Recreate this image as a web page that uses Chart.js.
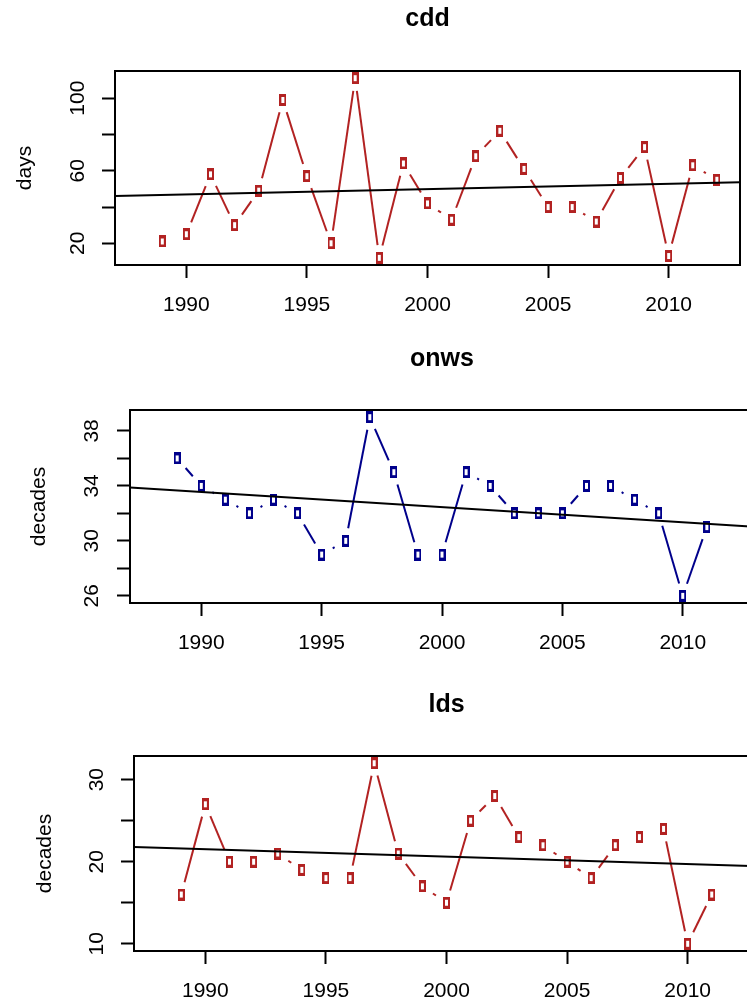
<!DOCTYPE html>
<html>
<head>
<meta charset="utf-8">
<title>cdd / onws / lds</title>
<script src="https://cdn.jsdelivr.net/npm/chart.js@4.4.1/dist/chart.umd.min.js"></script>
<style>
  html, body { margin: 0; padding: 0; background: #fff; overflow: hidden; width: 747px; height: 1004px; }
  .panel { position: absolute; left: 0; }
  .panel canvas { display: block; }
</style>
</head>
<body>
<div class="panel" style="top:0px"><canvas id="cdd-chart" width="747" height="330"></canvas></div>
<div class="panel" style="top:330px"><canvas id="onws-chart" width="760" height="340"></canvas></div>
<div class="panel" style="top:670px"><canvas id="lds-chart" width="765" height="334"></canvas></div>
<script>
// Data
const years = [1989, 1990, 1991, 1992, 1993, 1994, 1995, 1996, 1997, 1998, 1999, 2000,
               2001, 2002, 2003, 2004, 2005, 2006, 2007, 2008, 2009, 2010, 2011, 2012];
const cddValues  = [21, 25, 58, 30, 49, 99, 57, 20, 111, 12, 64, 42, 33, 68, 82, 61, 40, 40, 32, 56, 73, 13, 63, 55];
const onwsValues = [36, 34, 33, 32, 33, 32, 29, 30, 39, 35, 29, 29, 35, 34, 32, 32, 32, 34, 34, 33, 32, 26, 31];
const ldsValues  = [16, 27, 20, 20, 21, 19, 18, 18, 32, 21, 17, 15, 25, 28, 23, 22, 20, 18, 22, 23, 24, 10, 16];

// trend line values at the two ends of the x range
const cddTrend  = [46.1, 53.7];
const onwsTrend = [33.88, 31.03];
const ldsTrend  = [21.8, 19.46];

const xRange = [1987.04, 2012.96];
const xTicks = [1990, 1995, 2000, 2005, 2010];

const cddRange = [8.04, 114.96];
const cddTicks = [20, 40, 60, 80, 100];
const cddTickLabels = ['20', '', '60', '', '100'];

const onwsRange = [25.48, 39.52];
const onwsTicks = [26, 28, 30, 32, 34, 36, 38];
const onwsTickLabels = ['26', '', '30', '', '34', '', '38'];

const ldsRange = [9.12, 32.88];
const ldsTicks = [10, 15, 20, 25, 30];
const ldsTickLabels = ['10', '', '20', '', '30'];

const FONT = '"Liberation Sans", Arial, Helvetica, sans-serif';
const GAP = 12.8; // px left open around each point (R type = "b")

// dash pattern that leaves a gap at both ends of each segment
function gapDash(ctx) {
  const len = Math.hypot(ctx.p1.x - ctx.p0.x, ctx.p1.y - ctx.p0.y);
  if (len <= 2 * GAP) return [0, Math.max(len, 1)];
  return [0, GAP, len - 2 * GAP, GAP];
}

// small hollow box marker
function markerFor(color) {
  const c = document.createElement('canvas');
  c.width = 7;
  c.height = 12;
  const g = c.getContext('2d');
  g.fillStyle = color;
  g.fillRect(0, 0, 7, 12);
  g.fillStyle = '#ffffff';
  g.fillRect(2, 3, 3, 6);
  return c;
}

function drawPanel(id, p) {
  const L = p.layout;
  const tickFont = { family: FONT, size: 21 };
  const frame = { display: true, color: '#000', width: 2 };

  return new Chart(document.getElementById(id), {
    type: 'line',
    data: {
      datasets: [
        {
          data: p.trend.map((v, i) => ({ x: xRange[i], y: v })),
          borderColor: '#000',
          borderWidth: 2,
          pointRadius: 0,
          order: 0
        },
        {
          data: p.values.map((v, i) => ({ x: years[i], y: v })),
          borderColor: p.color,
          borderWidth: 2,
          pointStyle: markerFor(p.color),
          pointRadius: 3,
          tension: 0,
          order: 1,
          segment: { borderDash: gapDash }
        }
      ]
    },
    options: {
      responsive: false,
      animation: false,
      devicePixelRatio: 1,
      events: [],
      layout: { padding: { left: 0, right: L.padRight, top: 0, bottom: 0 } },
      plugins: {
        legend: { display: false },
        tooltip: { enabled: false },
        title: {
          display: true,
          text: p.title,
          fullSize: false,
          color: '#000',
          font: { family: FONT, size: 25, weight: 'bold' },
          padding: { top: L.titleMid - 15, bottom: L.boxTop - L.titleMid - 15 }
        }
      },
      scales: {
        x: {
          type: 'linear',
          position: 'bottom',
          min: xRange[0],
          max: xRange[1],
          afterBuildTicks: s => { s.ticks = xTicks.map(v => ({ value: v })); },
          afterFit: s => { s.height = L.xAxisHeight; },
          ticks: { autoSkip: false, maxRotation: 0, color: '#000', font: tickFont, padding: 14.4,
                   callback: v => String(v) },
          grid: { display: true, drawOnChartArea: false, drawTicks: true, tickLength: 13,
                  tickWidth: 2, tickColor: '#000' },
          border: frame
        },
        y: {
          type: 'linear',
          position: 'left',
          min: p.yRange[0],
          max: p.yRange[1],
          afterBuildTicks: s => { s.ticks = p.yTicks.map(v => ({ value: v })); },
          afterFit: s => { s.width = L.boxLeft; },
          ticks: { autoSkip: false, minRotation: 90, maxRotation: 90, crossAlign: 'center',
                   color: '#000', font: tickFont, padding: L.yTickPad,
                   callback: (v, i) => p.yTickLabels[i] },
          grid: { display: true, drawOnChartArea: false, drawTicks: true, tickLength: 13,
                  tickWidth: 2, tickColor: '#000' },
          border: frame,
          title: { display: true, text: p.yTitle, color: '#000', font: { family: FONT, size: 21 },
                   padding: { top: L.yTitleMid - 12.6, bottom: 0 } }
        },
        x2: {
          type: 'linear',
          position: 'top',
          min: xRange[0],
          max: xRange[1],
          afterFit: s => { s.height = 0; },
          ticks: { display: false },
          grid: { display: false },
          border: frame
        },
        y2: {
          type: 'linear',
          position: 'right',
          min: p.yRange[0],
          max: p.yRange[1],
          afterFit: s => { s.width = 0; },
          ticks: { display: false },
          grid: { display: false },
          border: frame
        }
      }
    }
  });
}

drawPanel('cdd-chart', {
  title: 'cdd', yTitle: 'days', color: '#B22222',
  values: cddValues, trend: cddTrend,
  yRange: cddRange, yTicks: cddTicks, yTickLabels: cddTickLabels,
  layout: { boxLeft: 115, padRight: 7, boxTop: 71, xAxisHeight: 65, titleMid: 19, yTitleMid: 25, yTickPad: 6.5 }
});

drawPanel('onws-chart', {
  title: 'onws', yTitle: 'decades', color: '#00008B',
  values: onwsValues, trend: onwsTrend,
  yRange: onwsRange, yTicks: onwsTicks, yTickLabels: onwsTickLabels,
  layout: { boxLeft: 130, padRight: 6, boxTop: 80, xAxisHeight: 67, titleMid: 29, yTitleMid: 39, yTickPad: 13.3 }
});

drawPanel('lds-chart', {
  title: 'lds', yTitle: 'decades', color: '#B22222',
  values: ldsValues, trend: ldsTrend,
  yRange: ldsRange, yTicks: ldsTicks, yTickLabels: ldsTickLabels,
  layout: { boxLeft: 134, padRight: 6, boxTop: 86, xAxisHeight: 53, titleMid: 35, yTitleMid: 45, yTickPad: 12.3 }
});
</script>
</body>
</html>
